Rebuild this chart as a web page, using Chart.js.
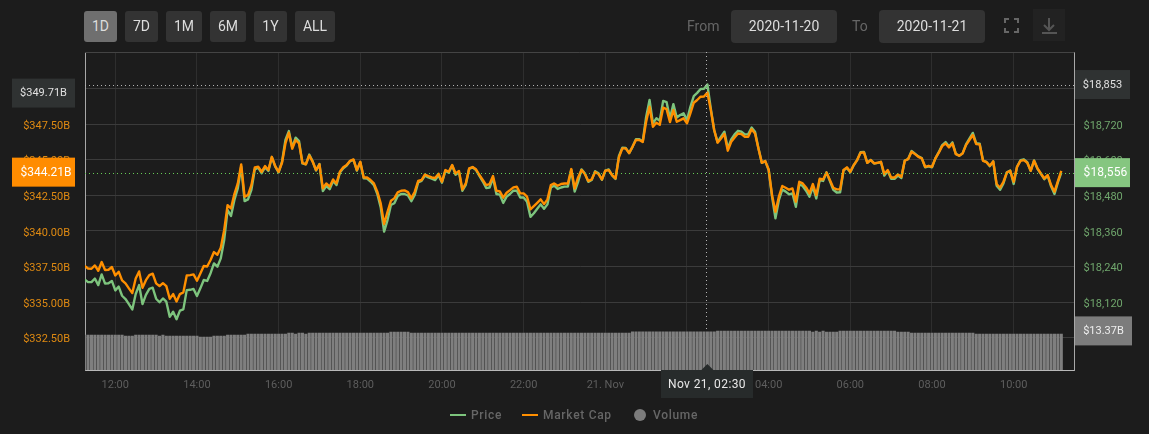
<!DOCTYPE html>
<html>
<head>
<meta charset="utf-8">
<title>Bitcoin chart</title>
<script src="https://cdn.jsdelivr.net/npm/chart.js@4"></script>
<style>
html, body { margin: 0; padding: 0; background: #1c1c1c; }
body { position: relative; width: 1149px; height: 434px; overflow: hidden; font-family: Roboto, sans-serif; }
canvas { position: absolute; left: 0; top: 0; }
.btn, .date { position: absolute; background: #333; color: #ddd; border-radius: 3px; text-align: center; font-size: 14px; }
.btn { top: 11px; height: 31px; line-height: 31px; }
.btn.on { background: #6f6f6f; }
.date { top: 10px; width: 106px; height: 33px; line-height: 33px; border-radius: 4px; }
.lab { position: absolute; top: 10px; line-height: 33px; font-size: 14px; color: #666; }
.leg { position: absolute; top: 408px; line-height: 15px; font-size: 12px; font-weight: 500; color: #666; letter-spacing: .7px; }
.swatch { position: absolute; top: 414px; width: 16px; height: 2px; }
.dot { position: absolute; left: 634px; top: 409px; width: 12px; height: 12px; border-radius: 50%; background: #7c7c7c; }
svg { position: absolute; }
</style>
</head>
<body>
<canvas id="chart" width="1149" height="434"></canvas>
<div class="btn on" style="left:84px;width:33px">1D</div>
<div class="btn" style="left:125px;width:33px">7D</div>
<div class="btn" style="left:166px;width:36px">1M</div>
<div class="btn" style="left:210px;width:36px">6M</div>
<div class="btn" style="left:254px;width:33px">1Y</div>
<div class="btn" style="left:295px;width:40px">ALL</div>
<div class="lab" style="left:687px">From</div>
<div class="date" style="left:731px">2020-11-20</div>
<div class="lab" style="left:852px">To</div>
<div class="date" style="left:879px">2020-11-21</div>
<svg style="left:1004px;top:18px" width="15" height="15" fill="none" stroke="#666" stroke-width="2"><path d="M1 5V1H5M10 1H14V5M14 10V14H10M5 14H1V10"/></svg>
<svg style="left:1033px;top:9px;background:#222" width="32" height="32" fill="none" stroke="#555" stroke-width="2"><path d="M16 9V20M11 16L16 21L21 16M9 24H24"/></svg>
<div class="swatch" style="left:450px;background:#7dc47d"></div>
<div class="leg" style="left:471px">Price</div>
<div class="swatch" style="left:522px;background:#ff8f00"></div>
<div class="leg" style="left:543px">Market Cap</div>
<div class="dot"></div>
<div class="leg" style="left:653px">Volume</div>

<script>
// five minute samples, minutes counted from 2020-11-20 00:00
const startMinute = 675
const stepMinutes = 5

const price = [
  18196,18187,18187,18199,18177,18213,18182,18183,18191,18159,18172,18141,
  18130,18113,18095,18147,18177,18113,18144,18164,18168,18131,18119,18132,
  18121,18070,18087,18062,18091,18095,18160,18161,18164,18140,18166,18194,
  18191,18217,18250,18239,18267,18329,18430,18410,18464,18503,18576,18460,
  18466,18498,18567,18573,18554,18574,18562,18608,18576,18557,18593,18666,
  18696,18641,18674,18662,18587,18584,18617,18594,18563,18585,18494,18511,
  18500,18528,18514,18556,18571,18580,18595,18599,18563,18591,18537,18536,
  18526,18514,18484,18439,18357,18396,18447,18453,18477,18484,18484,18479,
  18460,18481,18523,18528,18546,18540,18536,18531,18547,18522,18562,18556,
  18580,18549,18557,18495,18515,18569,18574,18565,18545,18526,18504,18506,
  18538,18484,18482,18454,18475,18484,18495,18495,18472,18472,18458,18407,
  18419,18434,18449,18434,18449,18506,18512,18501,18506,18509,18509,18565,
  18492,18525,18567,18553,18525,18531,18561,18554,18532,18563,18567,18547,
  18535,18612,18640,18639,18622,18643,18669,18669,18661,18744,18801,18722,
  18739,18731,18798,18794,18739,18787,18742,18750,18756,18733,18778,18814,
  18825,18838,18839,18853,18772,18699,18659,18677,18694,18638,18668,18685,
  18697,18694,18685,18686,18708,18694,18638,18589,18595,18565,18475,18402,
  18463,18499,18492,18483,18486,18441,18517,18511,18495,18475,18508,18469,
  18531,18528,18557,18528,18498,18489,18490,18563,18572,18557,18581,18598,
  18625,18626,18589,18599,18587,18589,18592,18546,18562,18535,18535,18546,
  18538,18597,18602,18629,18620,18611,18605,18574,18577,18574,18604,18625,
  18649,18659,18644,18658,18620,18613,18621,18651,18671,18690,18655,18654,
  18597,18592,18578,18594,18512,18498,18520,18557,18563,18518,18576,18598,
  18601,18591,18562,18597,18569,18552,18534,18546,18510,18484,18523,18556
]

const marketCap = [
  337.53,337.36,337.34,337.57,337.20,337.81,337.25,337.27,337.46,336.87,337.13,336.52,
  336.31,335.96,335.63,336.66,337.15,336.00,336.54,336.89,336.99,336.31,336.12,336.33,
  336.12,335.23,335.56,335.04,335.56,335.68,336.87,336.89,336.94,336.50,337.01,337.53,
  337.50,337.95,338.51,338.32,338.81,340.05,341.81,341.58,342.58,343.33,344.67,342.40,
  342.51,343.21,344.46,344.50,344.15,344.55,344.27,345.20,344.55,344.15,344.78,346.14,
  346.89,345.77,346.38,346.14,344.78,344.67,345.30,344.85,344.27,344.67,342.98,343.33,
  343.10,343.61,343.33,344.15,344.46,344.62,344.92,345.02,344.27,344.85,343.75,343.75,
  343.57,343.33,342.75,341.93,340.48,341.34,342.11,342.28,342.70,342.82,342.84,342.72,
  342.28,342.75,343.50,343.57,343.96,343.85,343.75,343.71,344.01,343.45,344.27,344.15,
  344.62,344.03,344.20,342.91,343.33,344.39,344.48,344.32,343.92,343.57,343.21,343.29,
  343.85,342.82,342.77,342.33,342.68,342.86,343.05,343.10,342.63,342.63,342.40,341.51,
  341.74,341.97,342.21,341.88,342.21,343.21,343.33,343.17,343.29,343.33,343.33,344.34,
  342.98,343.75,344.27,343.99,343.50,343.61,344.13,343.99,343.61,344.22,344.27,343.92,
  343.68,345.16,345.79,345.79,345.46,345.91,346.38,346.38,346.24,347.66,348.72,347.31,
  347.59,347.45,348.65,348.55,347.64,348.48,347.66,347.78,347.90,347.55,348.25,349.00,
  349.19,349.42,349.44,349.71,348.48,347.08,346.19,346.49,346.80,345.63,346.26,346.56,
  346.84,346.80,346.61,346.61,347.13,346.84,345.79,344.78,344.90,344.32,342.51,341.34,
  342.40,343.15,343.03,342.89,342.98,342.05,343.45,343.33,343.05,342.63,343.29,342.51,
  343.66,343.61,344.10,343.57,343.03,342.91,342.91,344.27,344.46,344.15,344.62,344.97,
  345.49,345.51,344.78,344.97,344.74,344.78,344.85,343.99,344.27,343.75,343.75,343.96,
  343.80,344.92,345.04,345.56,345.39,345.20,345.09,344.50,344.57,344.50,345.09,345.49,
  345.95,346.14,345.86,346.14,345.39,345.28,345.44,346.02,346.38,346.73,346.09,346.07,
  344.92,344.83,344.57,344.88,343.29,343.03,343.45,344.10,344.22,343.45,344.50,344.92,
  344.97,344.78,344.22,344.92,344.39,344.03,343.68,343.92,343.21,342.75,343.50,344.21
]

const volume = [
  12.23,12.23,12.23,12.23,12.23,12.23,12.23,12.23,12.23,12.23,12.23,12.23,
  11.88,11.88,11.88,12.23,12.23,12.23,12.23,12.23,12.23,12.23,11.88,12.23,
  11.88,11.88,11.88,11.88,11.88,11.88,11.88,11.88,11.88,11.88,11.53,11.53,
  11.53,11.53,11.88,11.88,11.88,11.88,12.23,12.23,12.23,12.23,12.23,12.23,
  12.57,12.57,12.57,12.57,12.57,12.57,12.57,12.57,12.57,12.57,12.57,12.57,
  12.92,12.92,12.57,12.92,12.92,12.57,12.92,12.92,12.92,12.92,12.92,12.92,
  12.92,12.92,12.92,12.92,12.92,12.92,12.92,12.92,12.92,12.92,12.92,12.92,
  12.92,12.92,12.92,12.92,12.92,12.92,13.27,13.27,13.27,13.27,13.27,13.27,
  12.92,12.92,12.92,12.92,12.92,12.92,12.92,12.92,12.92,12.92,12.92,12.92,
  12.92,12.92,12.92,12.92,12.92,12.92,12.92,12.92,12.92,12.92,12.92,12.92,
  12.92,12.92,12.92,12.92,12.92,12.92,12.92,12.92,12.92,12.92,12.92,12.92,
  12.92,12.92,12.92,12.92,12.92,12.92,12.92,12.92,12.92,12.92,12.92,12.92,
  12.92,12.92,12.92,12.92,12.92,12.92,12.92,12.92,12.92,12.92,12.92,12.92,
  12.92,12.92,12.92,12.92,12.92,13.37,13.37,13.37,13.37,13.37,13.37,13.37,
  13.37,13.37,13.37,13.37,13.37,13.37,13.37,13.37,13.37,13.37,13.37,13.37,
  13.37,13.37,13.37,13.37,13.37,13.37,13.61,13.61,13.61,13.61,13.61,13.61,
  13.61,13.61,13.61,13.61,13.61,13.61,13.61,13.61,13.61,13.61,13.61,13.61,
  13.61,13.61,13.61,13.61,13.61,13.61,13.61,13.61,13.61,13.61,13.27,13.61,
  13.27,13.61,13.27,13.27,13.27,13.27,13.61,13.61,13.61,13.61,13.61,13.61,
  13.61,13.61,13.61,13.61,13.61,13.61,13.61,13.61,13.61,13.61,13.61,13.27,
  13.27,13.27,13.27,12.92,12.92,12.92,12.92,12.92,12.92,12.92,12.92,12.92,
  12.92,12.92,12.92,12.92,12.92,12.92,12.92,12.92,12.92,12.92,12.57,12.57,
  12.57,12.57,12.57,12.57,12.57,12.57,12.57,12.57,12.57,12.57,12.57,12.57,
  12.57,12.57,12.57,12.57,12.57,12.57,12.57,12.57,12.57,12.57,12.57,12.57
]

const timeTicks = [720, 840, 960, 1080, 1200, 1320, 1440, 1560, 1680, 1800, 1920, 2040]
const timeLabels = ['12:00', '14:00', '16:00', '18:00', '20:00', '22:00', '21. Nov', '02:00', '04:00', '06:00', '08:00', '10:00']
const capTicks = [350, 347.5, 345, 342.5, 340, 337.5, 335, 332.5]
const priceTicks = [18840, 18720, 18600, 18480, 18360, 18240, 18120, 18000]

const cursorIndex = 183
const lastIndex = price.length - 1
const times = price.map((p, i) => startMinute + i * stepMinutes)
const toPoints = arr => arr.map((v, i) => ({ x: times[i], y: v }))

const fmtCap = v => '$' + v.toFixed(2) + 'B'
const fmtPrice = v => '$' + v.toLocaleString('en-US')

function box(ctx, x, y, w, h, bg, text, color, font, spacing, shift = 0) {
  ctx.fillStyle = bg
  ctx.fillRect(x, y, w, h)
  ctx.font = font
  ctx.letterSpacing = spacing
  ctx.fillStyle = color
  ctx.textAlign = 'center'
  ctx.textBaseline = 'middle'
  ctx.fillText(text, x + w / 2 + shift, y + h / 2 + 0.5)
  ctx.letterSpacing = '0px'
}

const overlay = {
  id: 'overlay',
  afterDraw(chart) {
    const { ctx, chartArea: a, scales } = chart
    const cx = scales.x.getPixelForValue(times[cursorIndex])
    const py = scales.yPrice.getPixelForValue(price[cursorIndex])
    const my = scales.yCap.getPixelForValue(marketCap[cursorIndex])
    const ly = scales.yPrice.getPixelForValue(price[lastIndex])
    const vy = scales.yVol.getPixelForValue(volume[cursorIndex])
    ctx.save()
    // top edge of the plot
    ctx.strokeStyle = '#444'
    ctx.beginPath()
    ctx.moveTo(a.left, a.top + 0.5)
    ctx.lineTo(a.right, a.top + 0.5)
    ctx.stroke()
    // crosshair and last price lines
    ctx.setLineDash([1, 3])
    ctx.strokeStyle = '#b4b4b4'
    ctx.beginPath()
    ctx.moveTo(a.left, Math.round(py) + 0.5)
    ctx.lineTo(a.right, Math.round(py) + 0.5)
    ctx.moveTo(Math.round(cx) - 0.5, a.top)
    ctx.lineTo(Math.round(cx) - 0.5, vy)
    ctx.stroke()
    ctx.strokeStyle = '#66cc55'
    ctx.beginPath()
    ctx.moveTo(a.left, Math.round(ly) + 0.5)
    ctx.lineTo(a.right, Math.round(ly) + 0.5)
    ctx.stroke()
    ctx.setLineDash([])
    // value flags on the axes
    const small = '11px Roboto'
    box(ctx, 12, my - 14, 63, 29, '#2f3232', fmtCap(marketCap[cursorIndex]), '#e0e0e0', small, '0px')
    box(ctx, 12, ly - 15, 63, 29, '#ff8c00', fmtCap(marketCap[lastIndex]), '#fff', '12px Roboto', '0px', 2.5)
    box(ctx, 1075, py - 14.5, 55, 29, '#2f3232', fmtPrice(price[cursorIndex]), '#e0e0e0', small, '0px')
    box(ctx, 1075, ly - 14.5, 55, 29, '#85c680', fmtPrice(price[lastIndex]), '#fff', '12px Roboto', '0.15px', 3)
    box(ctx, 1075, vy - 15, 57, 29, '#7c7c7c', '$' + volume[cursorIndex] + 'B', '#eee', small, '0px')
    // date flag under the cursor
    ctx.fillStyle = '#272b2b'
    ctx.beginPath()
    ctx.moveTo(cx - 6, a.bottom)
    ctx.lineTo(cx, a.bottom - 6)
    ctx.lineTo(cx + 6, a.bottom)
    ctx.fill()
    box(ctx, 661, a.bottom, 92, 28, '#272b2b', 'Nov 21, 02:30', '#e8e8e8', '12px Roboto', '0.4px')
    ctx.restore()
  }
}

const ctx = document.getElementById('chart').getContext('2d')
Chart.defaults.font.family = 'Roboto'
Chart.defaults.font.size = 11

new Chart(ctx, {
  data: {
    datasets: [
      { type: 'line', label: 'Market Cap', data: toPoints(marketCap), yAxisID: 'yCap', borderColor: '#ff8f00', borderWidth: 2.4, borderJoinStyle: 'round', pointRadius: 0, tension: 0, order: 1 },
      { type: 'line', label: 'Price', data: toPoints(price), yAxisID: 'yPrice', borderColor: '#7dc47d', borderWidth: 2.4, borderJoinStyle: 'round', pointRadius: 0, tension: 0, order: 2 },
      { type: 'bar', label: 'Volume', data: toPoints(volume), yAxisID: 'yVol', backgroundColor: '#7f7f7f', barPercentage: 0.9, categoryPercentage: 1, order: 3 }
    ]
  },
  options: {
    responsive: false,
    animation: false,
    layout: { padding: { top: 52 } },
    plugins: { legend: { display: false }, tooltip: { enabled: false } },
    scales: {
      x: {
        type: 'linear',
        offset: false,
        min: 675.5,
        max: 2129.4,
        afterFit: s => { s.height = 64 },
        afterBuildTicks: s => { s.ticks = timeTicks.map(v => ({ value: v })) },
        grid: { color: '#2e2e2e', drawTicks: false, offset: false },
        border: { color: '#b8b8b8' },
        ticks: {
          autoSkip: false,
          maxRotation: 0,
          padding: 9,
          color: '#5e5e5e',
          callback: v => timeLabels[timeTicks.indexOf(v)]
        }
      },
      yCap: {
        position: 'left',
        min: 330.23,
        max: 352.56,
        afterFit: s => { s.width = 85 },
        afterBuildTicks: s => { s.ticks = capTicks.map(v => ({ value: v })) },
        grid: { color: '#3b3b3b', drawTicks: false },
        border: { color: '#a8a8a8' },
        ticks: { padding: 15, labelOffset: 2, color: '#df8a12', callback: v => fmtCap(v) }
      },
      yPrice: {
        position: 'right',
        min: 17890.7,
        max: 18962.7,
        afterFit: s => { s.width = 74.5 },
        afterBuildTicks: s => { s.ticks = priceTicks.map(v => ({ value: v })) },
        grid: { display: false, drawTicks: false },
        border: { color: '#a8a8a8' },
        ticks: { padding: 9, labelOffset: 2, color: '#6fa56c', callback: v => fmtPrice(v) }
      },
      yVol: {
        display: false,
        min: 0,
        max: 110.15
      }
    }
  },
  plugins: [overlay]
})
</script>
</body>
</html>
